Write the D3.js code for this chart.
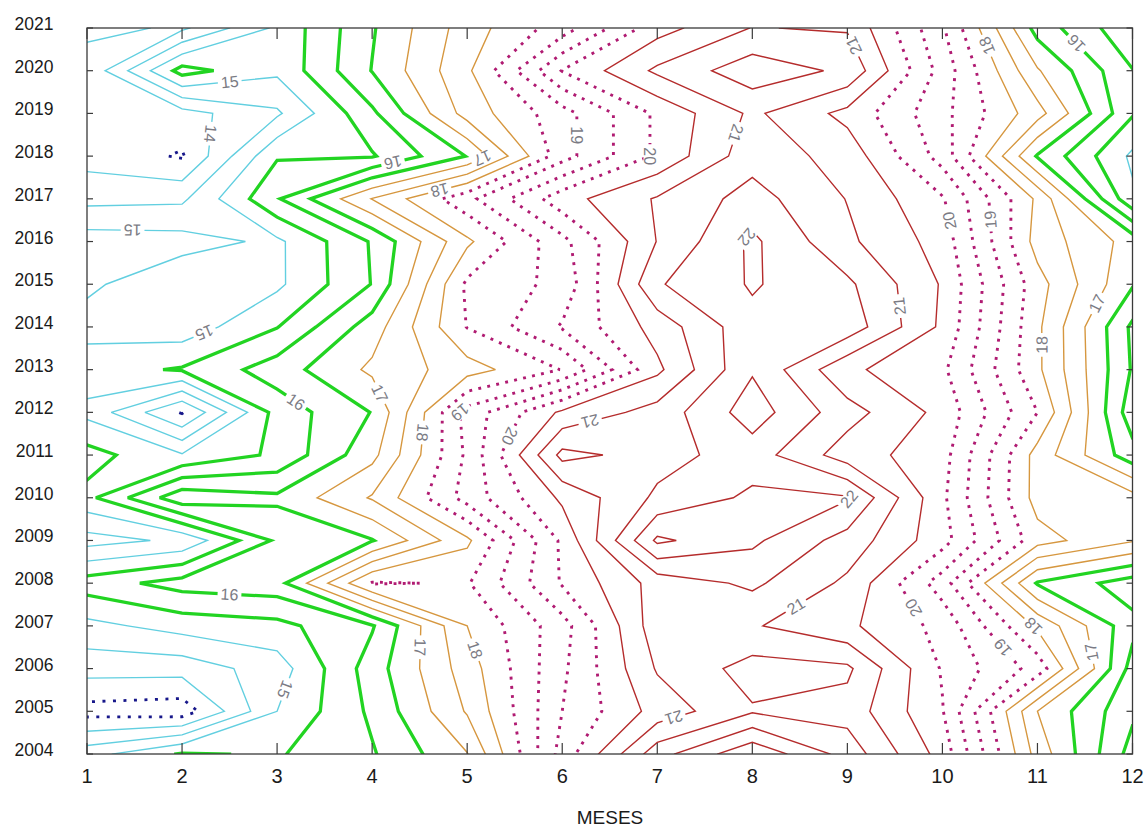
<!DOCTYPE html>
<html>
<head>
<meta charset="utf-8">
<script src="https://cdn.jsdelivr.net/npm/d3@7/dist/d3.min.js"></script>
<style>
html,body{margin:0;padding:0;background:#fff;}
svg{display:block;font-family:"Liberation Sans",Arial,Helvetica,sans-serif;}
</style>
</head>
<body>
<svg id="chart" width="1148" height="830"></svg>
<script>
// ---------------- data ----------------
const months = [1,2,3,4,5,6,7,8,9,10,11,12];
const years = [2004,2005,2006,2007,2008,2009,2010,2011,2012,2013,2014,2015,2016,2017,2018,2019,2020,2021];
const monthLabels = ["1","2","3","4","5","6","7","8","9","10","11","12"];
const yearLabels = ["2004","2005","2006","2007","2008","2009","2010","2011","2012","2013","2014","2015","2016","2017","2018","2019","2020","2021"];
const xTitle = "MESES";

// values per year, months 1..12
const t2004 = [14.8, 15.55, 15.45, 15.95, 16.98, 19.7, 21.8, 22.9, 21.8, 20.3, 17.3, 15.3];
const t2005 = [13.3, 13.2, 15.0, 16.1, 17.55, 19.5, 20.7, 21.45, 21.3, 20.03, 17.0, 15.6];
const t2006 = [14.2, 14.2, 14.75, 16.25, 17.75, 19.4, 21.05, 21.7, 21.6, 19.95, 18.8, 15.8];
const t2007 = [14.85, 15.2, 15.35, 15.95, 18.0, 19.3, 21.3, 21.05, 20.6, 19.85, 17.9, 16.15];
const t2008 = [15.75, 16.2, 16.3, 18.55, 18.45, 20.05, 21.2, 21.6, 20.9, 19.25, 16.45, 15.75];
const t2009 = [14.3, 14.6, 16.1, 16.47, 17.9, 20.1, 22.6, 22.1, 21.3, 20.2, 18.2, 17.55];
const t2010 = [15.36, 16.85, 16.6, 17.55, 19.2, 20.6, 21.6, 22.1, 22.05, 20.1, 17.8, 17.7];
const t2011 = [15.7, 15.05, 15.6, 16.85, 19.1, 21.65, 21.3, 21.75, 20.75, 20.2, 17.8, 16.2];
const t2012 = [14.86, 13.45, 15.7, 16.52, 19.2, 20.6, 21.2, 22.25, 21.2, 20.35, 18.5, 15.7];
const t2013 = [15.3, 15.55, 16.25, 17.1, 17.78, 18.52, 20.39, 21.95, 20.6, 20.1, 18.1, 15.95];
const t2014 = [14.8, 14.7, 15.48, 16.75, 18.52, 19.55, 20.7, 21.86, 21.8, 20.4, 18.1, 15.9];
const t2015 = [15.1, 14.6, 14.9, 16.02, 18.6, 19.15, 21.45, 22.05, 21.6, 20.45, 18.2, 16.55];
const t2016 = [15.25, 15.2, 14.9, 16.05, 17.9, 19.35, 21.02, 22.1, 21.1, 20.3, 17.8, 16.8];
const t2017 = [14.35, 14.4, 15.95, 17.52, 18.85, 20.3, 21.05, 21.7, 20.98, 20.05, 17.9, 15.1];
const t2018 = [13.8, 13.45, 15.45, 15.45, 16.52, 18.8, 20.1, 21.3, 20.8, 19.3, 16.45, 14.9];
const t2019 = [13.7, 13.8, 14.42, 15.9, 17.7, 18.8, 20.1, 21.1, 20.35, 19.15, 17.7, 15.55];
const t2020 = [13.6, 15.7, 15.1, 16.52, 17.9, 20.02, 21.1, 21.8, 21.4, 19.3, 17.05, 15.52];
const t2021 = [14.2, 13.9, 15.1, 16.45, 17.75, 18.75, 20.3, 21.02, 20.95, 19.07, 16.3, 15.1];

const levels = [13.5,14,14.5,15,15.5,16,16.5,17,17.5,18,18.5,19,19.5,20,20.5,21,21.5,22,22.5];

// contour label hints: [level, month, year]
const labelHints = [
  [15,2.50,2019.78],[14,2.24,2018.54],[15,1.48,2016.34],[16,4.22,2017.84],[17,5.17,2017.91],
  [18,4.71,2017.21],[19,6.22,2018.49],[20,7.03,2017.98],[21,7.82,2018.54],[22,7.94,2016.11],
  [21,9.08,2020.6],[18,10.48,2020.6],[16,11.39,2020.6],[21,9.64,2014.51],[18,11.13,2013.58],
  [17,11.66,2014.51],[20,10.01,2016.46],[19,10.43,2016.5],[15,2.26,2013.74],[16,3.14,2012.05],
  [17,4.11,2012.48],[18,4.48,2011.54],[19,4.92,2012.01],[20,5.42,2011.47],[21,6.29,2011.82],
  [22,9.03,2009.95],[16,2.5,2007.77],[15,3.1,2005.5],[17,4.5,2006.5],[18,5.07,2006.43],
  [21,7.17,2004.89],[21,8.47,2007.42],[20,9.78,2007.53],[19,10.69,2006.6],[18,10.94,2006.95],
  [17,11.5,2006.36]
];

// ---------------- setup ----------------
const svg = d3.select("#chart");
const x = d3.scaleLinear().domain([months[0], months[months.length-1]]).range([87, 1132.5]);
const y = d3.scaleLinear().domain([years[0], years[years.length-1]]).range([754, 28]);

const rowsArr = [t2004,t2005,t2006,t2007,t2008,t2009,t2010,t2011,t2012,t2013,t2014,t2015,t2016,t2017,t2018,t2019,t2020,t2021];
const nx = months.length, ny = years.length;
const gx = nx + 2, gy = ny + 2;
const grid = new Array(gx * gy);
for (let pj = 0; pj < gy; pj++) {
  for (let pi = 0; pi < gx; pi++) {
    const i = Math.max(0, Math.min(nx - 1, pi - 1));
    const r = Math.max(0, Math.min(ny - 1, pj - 1)); // r = 0 -> top row (last year)
    grid[pj * gx + pi] = rowsArr[ny - 1 - r][i];
  }
}

// detect d3-contour coordinate convention
const probe = d3.contours().size([2, 1]).thresholds([0.5])([0, 1]);
let minX = Infinity;
probe[0].coordinates.forEach(poly => poly.forEach(ring => ring.forEach(p => { minX = Math.min(minX, p[0]); })));
const off = minX - 0.5;
const topYear = years[ny - 1];
const toPx = p => [x(p[0] - off), y(topYear + 1 - (p[1] - off))];

function lineStyle(v) {
  if (v < 14) return {c: "#17178a", w: 2.8, dash: "3 7.5"};
  if (v < 15.5) return {c: "#62cfe0", w: 1.4, dash: null};
  if (v < 17) return {c: "#22d422", w: 3.3, dash: null};
  if (v < 18.5) return {c: "#d6973f", w: 1.4, dash: null};
  if (v < 20.5) return {c: "#b01b72", w: 2.9, dash: "2.9 6.3"};
  return {c: "#b52c2c", w: 1.4, dash: null};
}

const x0 = x(months[0]), x1 = x(months[nx - 1]);
const y0 = y(topYear), y1 = y(years[0]);

svg.append("defs").append("clipPath").attr("id", "plotClip")
  .append("rect").attr("x", x0).attr("y", y0).attr("width", x1 - x0).attr("height", y1 - y0);

const cs = d3.contours().size([gx, gy]).thresholds(levels)(grid);

const gLines = svg.append("g").attr("clip-path", "url(#plotClip)");
const ringsByLevel = new Map();
const lineGen = d3.line();
cs.forEach(c => {
  const st = lineStyle(c.value);
  const rings = [];
  c.coordinates.forEach(poly => poly.forEach(ring => rings.push(ring.map(toPx))));
  ringsByLevel.set(c.value.toFixed(1), rings);
  gLines.append("g").selectAll("path").data(rings).join("path")
    .attr("d", r => lineGen(r) + "Z")
    .attr("fill", "none")
    .attr("stroke", st.c)
    .attr("stroke-width", st.w)
    .attr("stroke-linejoin", "miter")
    .attr("stroke-miterlimit", 3)
    .attr("stroke-dasharray", st.dash);
});

// ---------------- contour labels ----------------
function fval(m, yr) {
  m = Math.max(1, Math.min(nx, m));
  yr = Math.max(years[0], Math.min(topYear, yr));
  const i0 = Math.min(nx - 2, Math.floor(m - 1));
  const j0 = Math.min(ny - 2, Math.floor(yr - years[0]));
  const tx = m - 1 - i0, ty = yr - years[0] - j0;
  const a = rowsArr[j0][i0], b = rowsArr[j0][i0 + 1], c = rowsArr[j0 + 1][i0], d = rowsArr[j0 + 1][i0 + 1];
  return a * (1 - tx) * (1 - ty) + b * tx * (1 - ty) + c * (1 - tx) * ty + d * tx * ty;
}
const gLab = svg.append("g");
labelHints.forEach(([lev, m, yr]) => {
  const rings = ringsByLevel.get(lev.toFixed(1));
  if (!rings) return;
  const P = [x(m), y(yr)];
  let best = null;
  rings.forEach(r => {
    for (let k = 0; k < r.length - 1; k++) {
      const a = r[k], b = r[k + 1];
      const dx = b[0] - a[0], dy = b[1] - a[1];
      const L2 = dx * dx + dy * dy;
      if (L2 < 1e-6) continue;
      let t = ((P[0] - a[0]) * dx + (P[1] - a[1]) * dy) / L2;
      t = Math.max(0, Math.min(1, t));
      const q = [a[0] + t * dx, a[1] + t * dy];
      if (q[0] < x0 + 8 || q[0] > x1 - 8 || q[1] < y0 + 8 || q[1] > y1 - 8) continue;
      const dist = Math.hypot(q[0] - P[0], q[1] - P[1]);
      if (!best || dist < best.dist) best = {dist, q, dx, dy};
    }
  });
  if (!best) return;
  const L = Math.hypot(best.dx, best.dy);
  const ux = best.dx / L, uy = best.dy / L;
  let nxv = -uy, nyv = ux;
  const pA = [best.q[0] + 4 * nxv, best.q[1] + 4 * nyv];
  const pB = [best.q[0] - 4 * nxv, best.q[1] - 4 * nyv];
  const vA = fval(x.invert(pA[0]), y.invert(pA[1]));
  const vB = fval(x.invert(pB[0]), y.invert(pB[1]));
  if (vB > vA) { nxv = -nxv; nyv = -nyv; }
  const theta = Math.atan2(nxv, -nyv) * 180 / Math.PI;
  const g = gLab.append("g").attr("transform", `translate(${best.q[0]},${best.q[1]}) rotate(${theta})`);
  const rect = g.append("rect").attr("fill", "#fff");
  const txt = g.append("text").text(String(lev))
    .attr("text-anchor", "middle").attr("dy", "0.36em")
    .attr("font-size", 16).attr("fill", "#7b7b84");
  const w = txt.node().getComputedTextLength();
  rect.attr("x", -w / 2 - 3).attr("y", -6.5).attr("width", w + 6).attr("height", 13);
});

// ---------------- axes / frame ----------------
const gAx = svg.append("g");
gAx.append("rect").attr("x", x0).attr("y", y0).attr("width", x1 - x0).attr("height", y1 - y0)
  .attr("fill", "none").attr("stroke", "#3a3a3a").attr("stroke-width", 1.3);
months.forEach((m, i) => {
  const xx = x(m);
  gAx.append("line").attr("x1", xx).attr("x2", xx).attr("y1", y1).attr("y2", y1 - 11).attr("stroke", "#3a3a3a").attr("stroke-width", 1.2);
  gAx.append("line").attr("x1", xx).attr("x2", xx).attr("y1", y0).attr("y2", y0 + 11).attr("stroke", "#3a3a3a").attr("stroke-width", 1.2);
  gAx.append("text").attr("x", xx).attr("y", 783).attr("text-anchor", "middle")
    .attr("font-size", 20).attr("fill", "#1a1a1a").text(monthLabels[i]);
});
years.forEach((yr, i) => {
  const yy = y(yr);
  gAx.append("line").attr("x1", x0).attr("x2", x0 + 6).attr("y1", yy).attr("y2", yy).attr("stroke", "#3a3a3a").attr("stroke-width", 1.2);
  gAx.append("line").attr("x1", x1).attr("x2", x1 - 6).attr("y1", yy).attr("y2", yy).attr("stroke", "#3a3a3a").attr("stroke-width", 1.2);
  gAx.append("text").attr("x", 53.5).attr("y", yy + 2).attr("text-anchor", "end")
    .attr("font-size", 17.5).attr("fill", "#1a1a1a").text(yearLabels[i]);
});
gAx.append("text").attr("x", 610).attr("y", 824).attr("text-anchor", "middle")
  .attr("font-size", 19).attr("fill", "#1a1a1a").text(xTitle);
</script>
</body>
</html>
